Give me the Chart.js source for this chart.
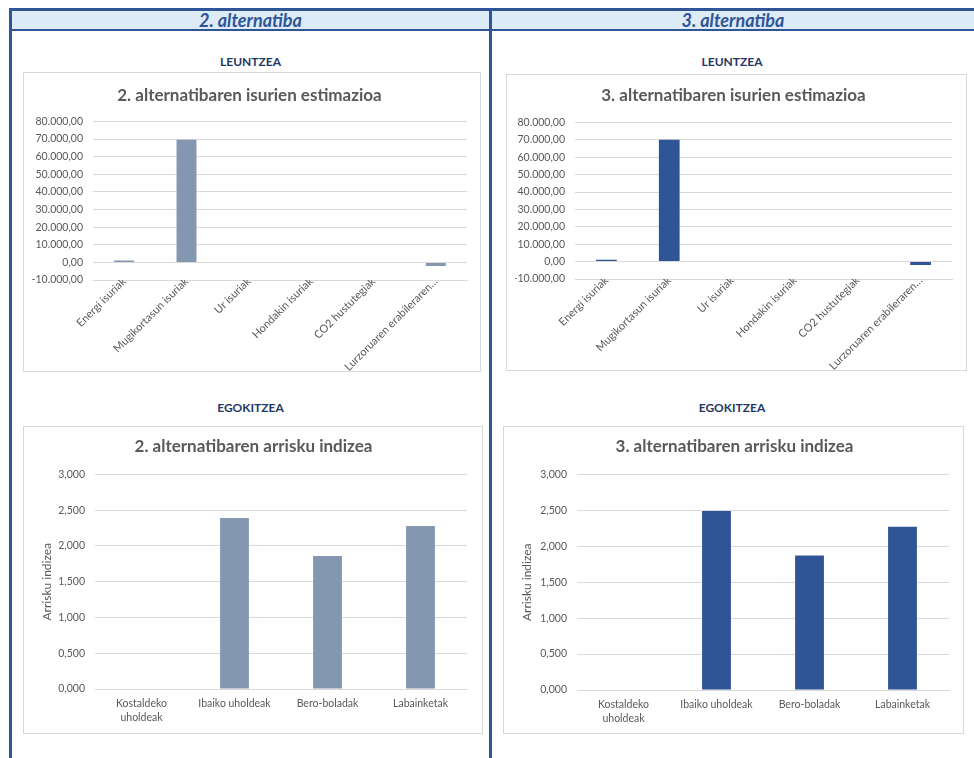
<!DOCTYPE html>
<html>
<head>
<meta charset="utf-8">
<script src="https://cdn.jsdelivr.net/npm/chart.js@4.4.0/dist/chart.umd.min.js"></script>
<style>
  body { margin: 0; width: 974px; height: 758px; background: #fff; position: relative; overflow: hidden; font-family: Lato, sans-serif; }
  .abs { position: absolute; }
  #topline { left: 9px; top: 8px; width: 965px; height: 3px; background: #2f5597; }
  #band { left: 9px; top: 11px; width: 965px; height: 18px; background: #ddebf7; }
  #bandline { left: 9px; top: 29px; width: 965px; height: 2px; background: #2f5597; }
  #vleft { left: 9px; top: 8px; width: 3px; height: 750px; background: #2f5597; }
  #vmid { left: 489px; top: 8px; width: 3px; height: 750px; background: #2f5597; }
  .head { top: 10px; height: 20px; line-height: 20px; text-align: center; font-style: italic; font-weight: bold; font-size: 18px; color: #2f5597; }
  .sub { height: 14px; line-height: 14px; font-weight: bold; font-size: 12px; color: #1f3864; text-align: center; }
  .box { border: 1px solid #d9d9d9; box-sizing: border-box; background: #fff; }
  .box canvas { display: block; }
</style>
</head>
<body>
<div class="abs" id="band"></div>
<div class="abs" id="topline"></div>
<div class="abs" id="bandline"></div>
<div class="abs" id="vleft"></div>
<div class="abs" id="vmid"></div>

<div class="abs head" style="left:12px;width:477px;">2. alternatiba</div>
<div class="abs head" style="left:492px;width:482px;">3. alternatiba</div>

<div class="abs sub" style="left:12px;width:477px;top:55px;">LEUNTZEA</div>
<div class="abs sub" style="left:492px;width:480px;top:55px;">LEUNTZEA</div>
<div class="abs sub" style="left:12px;width:477px;top:401px;">EGOKITZEA</div>
<div class="abs sub" style="left:492px;width:480px;top:401px;">EGOKITZEA</div>

<div class="abs box" style="left:23px;top:72px;width:458px;height:300px;"><canvas id="c1" width="456" height="298"></canvas></div>
<div class="abs box" style="left:506px;top:74px;width:461px;height:297px;"><canvas id="c2" width="459" height="295"></canvas></div>
<div class="abs box" style="left:23px;top:426px;width:460px;height:308px;"><canvas id="c3" width="458" height="306"></canvas></div>
<div class="abs box" style="left:503px;top:426px;width:461px;height:308px;"><canvas id="c4" width="459" height="306"></canvas></div>

<script>
// isurien estimazioa (LEUNTZEA)
const emisLabels = ['Energi isuriak', 'Mugikortasun isuriak', 'Ur isuriak', 'Hondakin isuriak', 'CO2 hustutegiak', 'Lurzoruaren erabileraren…'];
const emisAlt2 = [1000, 69600, 0, 0, 0, -2100];
const emisAlt3 = [1100, 70100, 0, 0, 0, -2000];
const emisMin = -10000, emisMax = 80000, emisStep = 10000;

// arrisku indizea (EGOKITZEA)
const riskLabels = [['Kostaldeko', 'uholdeak'], 'Ibaiko uholdeak', 'Bero-boladak', 'Labainketak'];
const riskAlt2 = [0, 2.39, 1.86, 2.28];
const riskAlt3 = [0, 2.49, 1.87, 2.27];
const riskMin = 0, riskMax = 3, riskStep = 0.5;

const colAlt2 = '#8497b0';
const colAlt3 = '#2f5597';

Chart.defaults.font.family = 'Lato, sans-serif';
Chart.defaults.color = '#595959';

// 80.000,00 / 2,500 estiloa
function fmtEu(v, dec) {
  const neg = v < 0;
  let [i, d] = Math.abs(v).toFixed(dec).split('.');
  i = i.replace(/\B(?=(\d{3})+(?!\d))/g, '.');
  return (neg ? '-' : '') + i + (d ? ',' + d : '');
}

function barChart(id, c) {
  return new Chart(document.getElementById(id), {
    type: 'bar',
    data: {
      labels: c.labels,
      datasets: [{ data: c.values, backgroundColor: c.color, barPercentage: c.barPct, categoryPercentage: 1 }]
    },
    options: {
      responsive: false,
      animation: false,
      layout: { padding: { left: c.padLeft, right: c.padRight, top: 0, bottom: 0 } },
      plugins: {
        legend: { display: false },
        tooltip: { enabled: false },
        title: {
          display: true, text: c.title, color: '#595959',
          font: { size: 17, weight: 'bold' },
          padding: { top: c.titleTop, bottom: c.titleBottom }
        }
      },
      scales: {
        x: {
          grid: { display: false, drawTicks: false },
          border: { color: '#d9d9d9' },
          ticks: {
            autoSkip: false, font: { size: c.xFont, lineHeight: 1.4 }, color: '#595959',
            minRotation: c.rot, maxRotation: c.rot, padding: c.xPad
          },
          afterFit: s => { s.height = c.xHeight; }
        },
        y: {
          min: c.min, max: c.max,
          grid: { color: '#d9d9d9', drawTicks: false },
          border: { display: false },
          ticks: { stepSize: c.step, padding: 10, font: { size: 10.5 }, color: '#595959', callback: v => fmtEu(v, c.dec) },
          title: { display: !!c.yTitle, text: c.yTitle, font: { size: 12 }, color: '#595959', padding: { top: 0, bottom: 0 } },
          afterFit: s => { s.width = c.yWidth; }
        }
      }
    }
  });
}

barChart('c1', {
  labels: emisLabels, values: emisAlt2, color: colAlt2, barPct: 0.32,
  title: '2. alternatibaren isurien estimazioa', titleTop: 12, titleBottom: 16,
  padLeft: 8, padRight: 13, yWidth: 61, xHeight: 91, rot: 45, xPad: -6, xFont: 11,
  min: emisMin, max: emisMax, step: emisStep, dec: 2
});
barChart('c2', {
  labels: emisLabels, values: emisAlt3, color: colAlt3, barPct: 0.33,
  title: '3. alternatibaren isurien estimazioa', titleTop: 10, titleBottom: 17,
  padLeft: 8, padRight: 14, yWidth: 60, xHeight: 91, rot: 45, xPad: -6, xFont: 11,
  min: emisMin, max: emisMax, step: emisStep, dec: 2
});
barChart('c3', {
  labels: riskLabels, values: riskAlt2, color: colAlt2, barPct: 0.31,
  title: '2. alternatibaren arrisku indizea', titleTop: 9, titleBottom: 18,
  padLeft: 16, padRight: 15, yWidth: 55, xHeight: 44, rot: 0, xPad: 7, xFont: 10.5, yTitle: 'Arrisku indizea',
  min: riskMin, max: riskMax, step: riskStep, dec: 3
});
barChart('c4', {
  labels: riskLabels, values: riskAlt3, color: colAlt3, barPct: 0.31,
  title: '3. alternatibaren arrisku indizea', titleTop: 9, titleBottom: 18,
  padLeft: 16, padRight: 14, yWidth: 57, xHeight: 43, rot: 0, xPad: 7, xFont: 10.5, yTitle: 'Arrisku indizea',
  min: riskMin, max: riskMax, step: riskStep, dec: 3
});
</script>
</body>
</html>
